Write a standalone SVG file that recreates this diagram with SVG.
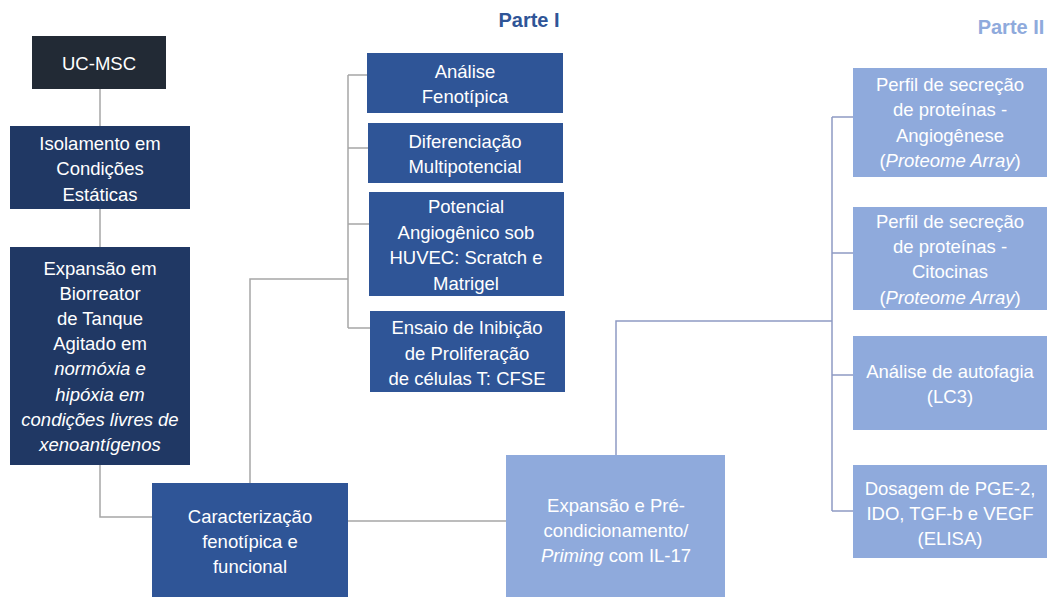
<svg xmlns="http://www.w3.org/2000/svg" width="1051" height="597" viewBox="0 0 1051 597">
<style>
.t{font-family:"Liberation Sans",Arial,sans-serif;font-size:18.5px;fill:#ffffff;text-anchor:middle}
.i{font-style:italic}
.c1{fill:none;stroke:#a6a6a6;stroke-width:1.5}
.c2{fill:none;stroke:#8e9bc4;stroke-width:1.5}
.dk{fill:#222a35}
.nv{fill:#203864}
.md{fill:#2f5597}
.lt{fill:#8faadc}
.h{font-family:"Liberation Sans",Arial,sans-serif;font-size:20px;font-weight:bold}
</style>
<rect width="1051" height="597" fill="#ffffff"/>
<g id="connectors">
<path class="c1" d="M100 89V126M100 209V247M100 465V517H152"/>
<path class="c1" d="M250 483V279H348M348 75V328M348 75H367M348 148H368M348 224H369M348 328H370"/>
<path class="c1" d="M347 521H506"/>
<path class="c2" d="M616 455V321H832M832 117V511M832 117H853M832 253H853M832 375H853M832 511H853"/>
</g>
<g id="titles">
<text class="h" x="529" y="27" text-anchor="middle" fill="#2f5597">Parte I</text>
<text class="h" x="1011" y="34" text-anchor="middle" fill="#8faadc">Parte II</text>
</g>
<g id="n-ucmsc"><rect class="dk" x="32" y="36" width="134" height="53"/><text class="t" x="99" y="70">UC-MSC</text></g>
<g id="n-isolamento"><rect class="nv" x="10" y="126" width="180" height="83"/>
<text class="t" x="100" y="150">Isolamento em</text><text class="t" x="100" y="175">Condições</text><text class="t" x="100" y="201">Estáticas</text></g>
<g id="n-expansao"><rect class="nv" x="10" y="247" width="180" height="218"/>
<text class="t" x="100" y="275">Expansão em</text>
<text class="t" x="100" y="300">Biorreator</text>
<text class="t" x="100" y="325">de Tanque</text>
<text class="t" x="100" y="350">Agitado em</text>
<text class="t i" x="100" y="375">normóxia e</text>
<text class="t i" x="100" y="401">hipóxia em</text>
<text class="t i" x="100" y="426">condições livres de</text>
<text class="t i" x="100" y="451">xenoantígenos</text></g>
<g id="n-caracterizacao"><rect class="md" x="152" y="483" width="196" height="114"/>
<text class="t" x="250" y="523">Caracterização</text><text class="t" x="250" y="548">fenotípica e</text><text class="t" x="250" y="573">funcional</text></g>
<g id="n-analise"><rect class="md" x="367" y="53" width="196" height="60"/>
<text class="t" x="465" y="78">Análise</text><text class="t" x="465" y="103">Fenotípica</text></g>
<g id="n-diferenciacao"><rect class="md" x="368" y="123" width="195" height="60"/>
<text class="t" x="465" y="148">Diferenciação</text><text class="t" x="465" y="173">Multipotencial</text></g>
<g id="n-potencial"><rect class="md" x="369" y="192" width="195" height="104"/>
<text class="t" x="466" y="213">Potencial</text><text class="t" x="466" y="239">Angiogênico sob</text><text class="t" x="466" y="264">HUVEC: Scratch e</text><text class="t" x="466" y="290">Matrigel</text></g>
<g id="n-ensaio"><rect class="md" x="370" y="311" width="195" height="81"/>
<text class="t" x="467" y="334">Ensaio de Inibição</text><text class="t" x="467" y="360">de Proliferação</text><text class="t" x="467" y="385">de células T: CFSE</text></g>
<g id="n-priming"><rect class="lt" x="506" y="455" width="219" height="142"/>
<text class="t" x="616" y="512">Expansão e Pré-</text><text class="t" x="616" y="537">condicionamento/</text><text class="t" x="616" y="562"><tspan class="i">Priming</tspan> com IL-17</text></g>
<g id="n-perfil1"><rect class="lt" x="853" y="68" width="194" height="109"/>
<text class="t" x="950" y="91">Perfil de secreção</text><text class="t" x="950" y="116">de proteínas  -</text><text class="t" x="950" y="142">Angiogênese</text><text class="t" x="950" y="167">(<tspan class="i">Proteome Array</tspan>)</text></g>
<g id="n-perfil2"><rect class="lt" x="853" y="207" width="194" height="103"/>
<text class="t" x="950" y="228">Perfil de secreção</text><text class="t" x="950" y="253">de proteínas  -</text><text class="t" x="950" y="278">Citocinas</text><text class="t" x="950" y="304">(<tspan class="i">Proteome Array</tspan>)</text></g>
<g id="n-autofagia"><rect class="lt" x="853" y="336" width="194" height="94"/>
<text class="t" x="950" y="378">Análise de autofagia</text><text class="t" x="950" y="403">(LC3)</text></g>
<g id="n-dosagem"><rect class="lt" x="853" y="465" width="194" height="93"/>
<text class="t" x="950" y="495">Dosagem de PGE-2,</text><text class="t" x="950" y="520">IDO, TGF-b e VEGF</text><text class="t" x="950" y="545">(ELISA)</text></g>
</svg>
